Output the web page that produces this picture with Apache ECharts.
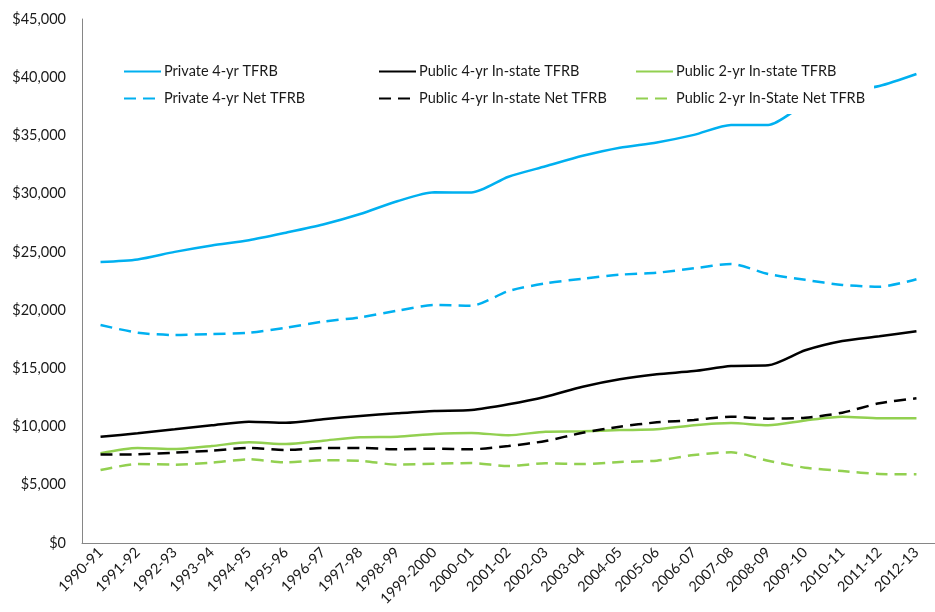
<!DOCTYPE html>
<html>
<head>
    <meta charset="utf-8">
    <title>TFRB</title>
    <script src="https://cdn.jsdelivr.net/npm/echarts@6/dist/echarts.min.js"></script>
    <style>
        html, body { margin: 0; padding: 0; background: #fff; }
    </style>
</head>
<body>
<div id="main" style="width: 935px; height: 612px;"></div>
<script type="text/javascript">
    // categories and values
    var years = ['1990-91', '1991-92', '1992-93', '1993-94', '1994-95', '1995-96', '1996-97', '1997-98',
        '1998-99', '1999-2000', '2000-01', '2001-02', '2002-03', '2003-04', '2004-05', '2005-06',
        '2006-07', '2007-08', '2008-09', '2009-10', '2010-11', '2011-12', '2012-13'];

    var private4 = [24130, 24350, 25000, 25550, 26000, 26650, 27350, 28250, 29350, 30120, 30100, 31450,
        32350, 33250, 33950, 34400, 35050, 35900, 35900, 37700, 38700, 39250, 40280];
    var private4Net = [18720, 18060, 17860, 17950, 18060, 18490, 19010, 19380, 19950, 20440, 20380, 21640,
        22300, 22700, 23040, 23210, 23590, 23960, 23100, 22600, 22160, 22010, 22650];
    var public4 = [9130, 9420, 9760, 10110, 10420, 10330, 10620, 10910, 11140, 11340, 11420, 11910,
        12560, 13420, 14060, 14490, 14770, 15200, 15260, 16550, 17350, 17750, 18180];
    var public4Net = [7590, 7620, 7760, 7930, 8160, 7990, 8160, 8160, 8050, 8100, 8050, 8330,
        8760, 9470, 9990, 10360, 10560, 10850, 10680, 10760, 11190, 12000, 12430];
    var public2 = [7700, 8160, 8070, 8330, 8650, 8500, 8790, 9080, 9130, 9360, 9450, 9250,
        9560, 9590, 9700, 9760, 10110, 10300, 10110, 10530, 10850, 10710, 10710];
    var public2Net = [6270, 6780, 6730, 6900, 7190, 6930, 7100, 7060, 6730, 6810, 6870, 6610,
        6840, 6780, 6960, 7070, 7560, 7790, 7070, 6470, 6180, 5930, 5900];

    var yTicks = { min: 0, max: 45000, interval: 5000 };

    var BLUE = '#00B0F0', BLACK = '#000000', GREEN = '#92D050';
    var FONT = 'Lato';
    var FS = 14.5;
    var dash = [12, 7];

    function line(name, data, color, dashed) {
        return {
            name: name,
            type: 'line',
            data: data,
            smooth: 0.25,
            symbol: 'none',
            lineStyle: { color: color, width: 2.5, type: dashed ? dash : 'solid' },
            itemStyle: { color: color }
        };
    }

    function legendCol(left, names) {
        return {
            orient: 'vertical',
            left: left,
            top: 56,
            padding: [8, 9, 8, 4],
            itemWidth: 37,
            itemHeight: 14,
            itemGap: 12,
            backgroundColor: '#fff',
            itemStyle: { opacity: 0 },
            data: names,
            textStyle: { fontFamily: FONT, fontSize: FS, color: '#1a1a1a', padding: [0, 0, 0, -2] }
        };
    }

    var myChart = echarts.init(document.getElementById('main'));

    var option = {
        animation: false,
        backgroundColor: '#fff',
        grid: { left: 82, right: -7, top: 19, bottom: 69 },
        legend: [
            legendCol(119, ['Private 4-yr TFRB', 'Private 4-yr Net TFRB']),
            legendCol(374, ['Public 4-yr In-state TFRB', 'Public 4-yr In-state Net TFRB']),
            legendCol(631, ['Public 2-yr In-state TFRB', 'Public 2-yr In-State Net TFRB'])
        ],
        xAxis: {
            type: 'category',
            data: years,
            boundaryGap: true,
            axisLine: { lineStyle: { color: '#868686', width: 1 } },
            axisTick: { length: 5, lineStyle: { color: '#868686' } },
            axisLabel: { rotate: 45, fontFamily: FONT, fontSize: FS, color: '#1a1a1a', margin: 7, interval: 0 },
            splitLine: { show: false }
        },
        yAxis: {
            type: 'value',
            min: yTicks.min,
            max: yTicks.max,
            interval: yTicks.interval,
            axisLine: { show: true, lineStyle: { color: '#868686', width: 1 } },
            axisTick: { show: false },
            splitLine: { show: false },
            axisLabel: {
                fontFamily: FONT, fontSize: FS, color: '#1a1a1a', margin: 16,
                formatter: function (v) { return '$' + v.toLocaleString('en-US'); }
            }
        },
        series: [
            line('Private 4-yr TFRB', private4, BLUE, false),
            line('Public 4-yr In-state TFRB', public4, BLACK, false),
            line('Public 2-yr In-state TFRB', public2, GREEN, false),
            line('Private 4-yr Net TFRB', private4Net, BLUE, true),
            line('Public 4-yr In-state Net TFRB', public4Net, BLACK, true),
            line('Public 2-yr In-State Net TFRB', public2Net, GREEN, true)
        ]
    };

    myChart.setOption(option);
</script>
</body>
</html>
